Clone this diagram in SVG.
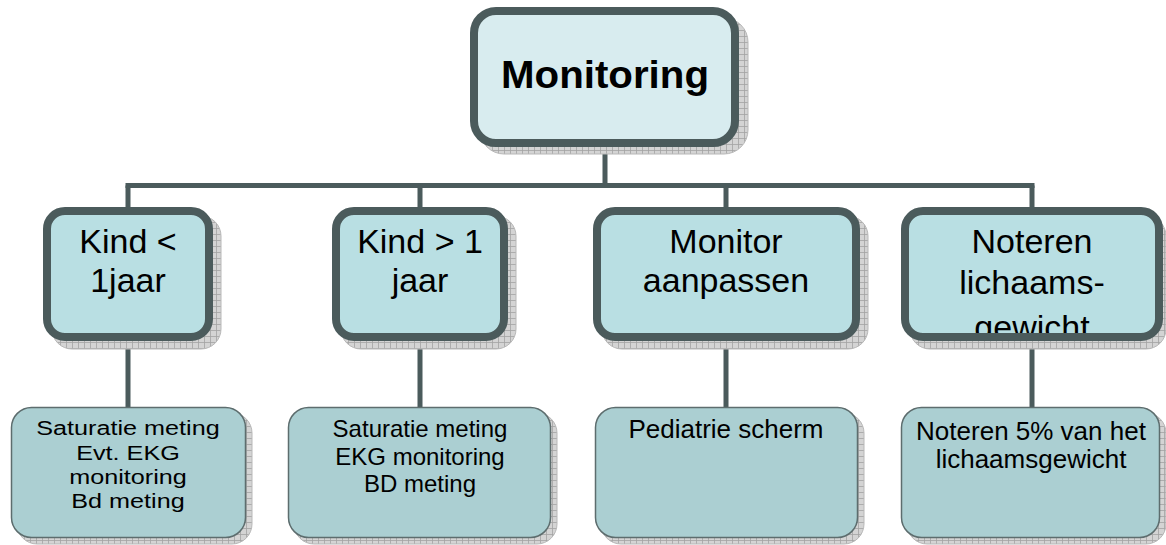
<svg xmlns="http://www.w3.org/2000/svg" width="1166" height="545" viewBox="0 0 1166 545">
  <defs>
    <!-- hatched drop-shadow fill -->
    <pattern id="grid" width="6" height="6" patternUnits="userSpaceOnUse">
      <rect width="6" height="6" fill="#d4d4d4"/>
      <path d="M0 0.5H6M0.5 0V6" stroke="#a3a3a3" stroke-width="0.8"/>
    </pattern>
    <clipPath id="clip-noteren">
      <rect x="909" y="215" width="246" height="118" rx="14"/>
    </clipPath>
    <style>
      .shadow { fill: url(#grid); stroke: #b8b8b8; stroke-width: 1; }
      .top { fill: #d8ecef; stroke: #4b5b5c; stroke-width: 8; }
      .mid { fill: #b9dfe3; stroke: #4b5b5c; stroke-width: 8; }
      .low { fill: #abcfd2; stroke: #5d6d6e; stroke-width: 1.5; }
      .conn { stroke: #4b5b5c; stroke-width: 5; fill: none; }
      text { font-family: "Liberation Sans", Arial, sans-serif; fill: #000; text-anchor: middle; }
      .t1 { font-size: 38px; font-weight: bold; }
      .t2 { font-size: 34px; }
      .t3 { font-size: 24px; }
      .t3s { font-size: 21px; }
    </style>
  </defs>

  <!-- connectors -->
  <g id="connectors">
    <path class="conn" d="M605 147V185.5M125.5 185.5H1034.5"/>
    <path class="conn" d="M128 185.5V207M420 185.5V207M726 185.5V207M1032 185.5V207"/>
    <path class="conn" d="M128 341V407M420 341V407M726 341V407M1032 341V407"/>
  </g>

  <!-- root -->
  <g id="monitoring">
    <rect class="shadow" x="480" y="18" width="268" height="136" rx="24"/>
    <rect class="top" x="474" y="11" width="261" height="132" rx="22"/>
    <text class="t1" x="605" y="88" textLength="208" lengthAdjust="spacingAndGlyphs">Monitoring</text>
  </g>

  <!-- second level -->
  <g id="kind-lt-1">
    <rect class="shadow" x="52" y="216" width="169" height="133" rx="20"/>
    <rect class="mid" x="47" y="211" width="162" height="126" rx="18"/>
    <text class="t2" x="128" y="253">Kind &lt;</text>
    <text class="t2" x="128" y="292">1jaar</text>
  </g>

  <g id="kind-gt-1">
    <rect class="shadow" x="341" y="216" width="175" height="133" rx="20"/>
    <rect class="mid" x="336" y="211" width="168" height="126" rx="18"/>
    <text class="t2" x="420" y="253">Kind &gt; 1</text>
    <text class="t2" x="420" y="292">jaar</text>
  </g>

  <g id="monitor-aanpassen">
    <rect class="shadow" x="602" y="216" width="266" height="133" rx="20"/>
    <rect class="mid" x="597" y="211" width="259" height="126" rx="18"/>
    <text class="t2" x="726" y="253">Monitor</text>
    <text class="t2" x="726" y="292">aanpassen</text>
  </g>

  <g id="noteren-gewicht">
    <rect class="shadow" x="910" y="216" width="256" height="133" rx="20"/>
    <rect class="mid" x="905" y="211" width="254" height="126" rx="18"/>
    <g clip-path="url(#clip-noteren)">
      <text class="t2" x="1032" y="253">Noteren</text>
      <text class="t2" x="1032" y="294">lichaams-</text>
      <text class="t2" x="1032" y="339">gewicht</text>
    </g>
  </g>

  <!-- third level -->
  <g id="detail-kind-lt-1">
    <rect class="shadow" x="17" y="413" width="235" height="131" rx="20"/>
    <rect class="low" x="11.5" y="407.5" width="234" height="130" rx="20"/>
    <!-- wide-set lines: horizontally stretched text -->
    <g transform="translate(128 0) scale(1.2 1)">
      <text class="t3s" x="0" y="435">Saturatie meting</text>
      <text class="t3s" x="0" y="460">Evt. EKG</text>
      <text class="t3s" x="0" y="484">monitoring</text>
      <text class="t3s" x="0" y="508">Bd meting</text>
    </g>
  </g>

  <g id="detail-kind-gt-1">
    <rect class="shadow" x="294" y="413" width="263" height="131" rx="20"/>
    <rect class="low" x="288.5" y="407.5" width="262" height="130" rx="20"/>
    <text class="t3" x="420" y="437">Saturatie meting</text>
    <text class="t3" x="420" y="465">EKG monitoring</text>
    <text class="t3" x="420" y="492">BD meting</text>
  </g>

  <g id="detail-monitor">
    <rect class="shadow" x="601" y="413" width="263" height="131" rx="20"/>
    <rect class="low" x="595.5" y="407.5" width="262" height="130" rx="20"/>
    <text class="t3" x="726" y="438" style="font-size:26px">Pediatrie scherm</text>
  </g>

  <g id="detail-noteren">
    <rect class="shadow" x="907" y="413" width="259" height="131" rx="20"/>
    <rect class="low" x="901.5" y="407.5" width="258" height="130" rx="20"/>
    <text class="t3" x="1031" y="440" style="font-size:26px">Noteren 5% van het</text>
    <text class="t3" x="1031" y="468" style="font-size:26px">lichaamsgewicht</text>
  </g>
</svg>
